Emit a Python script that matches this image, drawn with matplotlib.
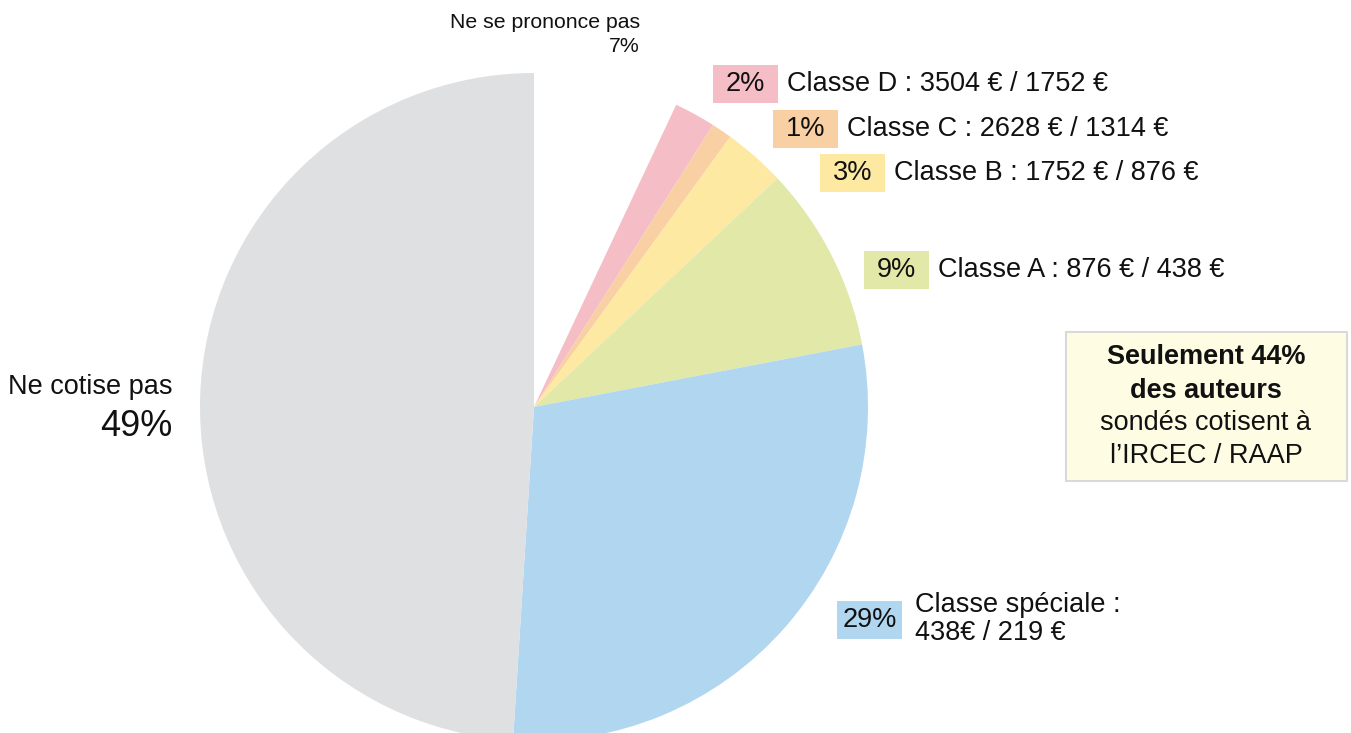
import matplotlib
matplotlib.use("Agg")
import matplotlib.pyplot as plt
from matplotlib.patches import Rectangle

plt.rcParams['font.family'] = ['Liberation Sans', 'DejaVu Sans']

# Survey shares (%), clockwise from the top of the pie
categories = ["Ne se prononce pas", "Classe D", "Classe C", "Classe B",
              "Classe A", "Classe spéciale", "Ne cotise pas"]
shares = [7, 2, 1, 3, 9, 29, 49]
amounts = ["", "3504 € / 1752 €", "2628 € / 1314 €", "1752 € / 876 €",
           "876 € / 438 €", "438€ / 219 €", ""]
colors = ["#FFFFFF", "#F5BDC6", "#F9D0A3", "#FDE9A2", "#E2E8A8", "#B1D6EF", "#DFE0E2"]

W, H = 1351, 733
fig = plt.figure(figsize=(W / 100, H / 100), dpi=100)
ax = fig.add_axes([0, 0, 1, 1])
ax.set_xlim(0, W)
ax.set_ylim(0, H)
ax.set_aspect("equal")
ax.axis("off")


def Y(y):
    return H - y


ax.pie(shares, colors=colors, startangle=90, counterclock=False,
       center=(534, Y(407)), radius=334,
       wedgeprops=dict(linewidth=0, edgecolor="none"))
ax.set_xlim(0, W)
ax.set_ylim(0, H)

# Colored percentage tags with class descriptions
tags = [
    (1, 713, 84),
    (2, 773, 129),
    (3, 820, 173),
    (4, 864, 270),
    (5, 837, 620),
]
box_w, box_h = 65, 38
fs = 19.5
for idx, x0, yc in tags:
    ax.add_patch(Rectangle((x0, Y(yc) - box_h / 2), box_w, box_h,
                           facecolor=colors[idx], edgecolor="none"))
    ax.text(x0 + box_w / 2, Y(yc), f"{shares[idx]}%", ha="center", va="center",
            fontsize=fs, color="#111111")
    if idx == 5:
        label = f"{categories[idx]} :\n{amounts[idx]}"
        ax.text(x0 + box_w + 13, Y(yc) + 1, label, ha="left", va="center",
                fontsize=fs, color="#111111", linespacing=1.12)
    else:
        label = f"{categories[idx]} : {amounts[idx]}"
        ax.text(x0 + box_w + 9, Y(yc), label, ha="left", va="center",
                fontsize=fs, color="#111111")

# Undecided share
ax.text(640, Y(22), categories[0], ha="right", va="center", fontsize=15.3, color="#111111")
ax.text(640, Y(47), f"{shares[0]}%", ha="right", va="center", fontsize=15.3, color="#111111")

# Non-contributors
ax.text(172, Y(387), categories[6], ha="right", va="center", fontsize=19.5, color="#111111")
ax.text(172, Y(426), f"{shares[6]}%", ha="right", va="center", fontsize=26, color="#111111")

# Highlight box
ax.add_patch(Rectangle((1066, Y(481)), 281, 149, facecolor="#FEFDE4",
                       edgecolor="#D9D9D9", linewidth=1.5))
cx = 1206
ax.text(cx, Y(357), "Seulement 44%", ha="center", va="center", fontsize=fs,
        fontweight="bold", color="#111111")
ax.text(cx, Y(391), "des auteurs", ha="center", va="center", fontsize=fs,
        fontweight="bold", color="#111111")
ax.text(cx, Y(423), "sondés cotisent à", ha="center", va="center", fontsize=fs,
        color="#111111")
ax.text(cx, Y(456), "l’IRCEC / RAAP", ha="center", va="center", fontsize=fs,
        color="#111111")

fig.savefig("out.png", dpi=100)
